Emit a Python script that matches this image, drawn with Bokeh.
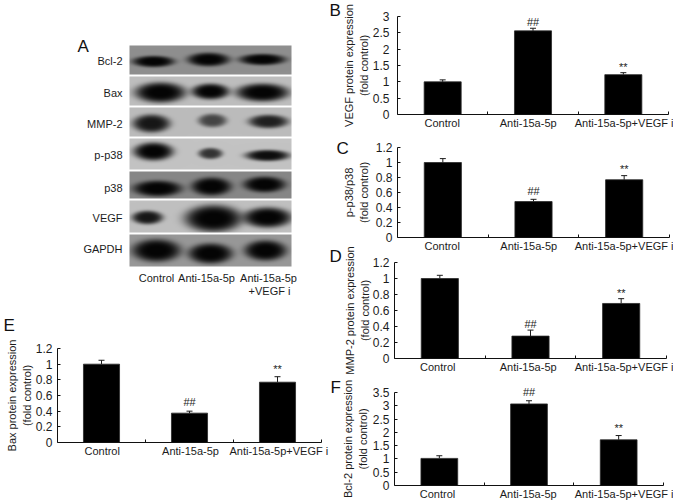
import numpy as np
from bokeh.embed import file_html
from bokeh.resources import INLINE
from bokeh.plotting import figure
from bokeh.layouts import row, column
from bokeh.models import FixedTicker, Whisker, TeeHead, ColumnDataSource
from bokeh.core.properties import value

FONT = "Liberation Sans"
INK = "#1c1c1c"
GROUPS = ["Control", "Anti-15a-5p", "Anti-15a-5p+VEGF i"]
MARKS = ["", "##", "**"]
LETTERS = ["A", "B", "C", "D", "E", "F"]
LETTER_X = [77, 329, 336, 329, 3, 330]
LETTER_Y = [45.5, 9.5, 147.5, 256, 325, 387]

VEGF_VALS = [1.0, 2.56, 1.22]
VEGF_ERR = [0.06, 0.08, 0.06]
PP38_VALS = [1.0, 0.479, 0.77]
PP38_ERR = [0.052, 0.03, 0.055]
MMP2_VALS = [1.0, 0.28, 0.688]
MMP2_ERR = [0.04, 0.075, 0.06]
BAX_VALS = [1.0, 0.375, 0.77]
BAX_ERR = [0.05, 0.025, 0.07]
BCL2_VALS = [1.02, 3.07, 1.72]
BCL2_ERR = [0.1, 0.12, 0.16]

ROW_NAMES = ["Bcl-2", "Bax", "MMP-2", "p-p38", "p38", "VEGF", "GAPDH"]
ROW_LABEL_Y = [60, 92, 123, 154, 187, 217, 248]
ROW_TOPS = [45, 76, 107, 138, 171, 200, 234]
ROW_BOTS = [74, 105, 136, 169, 198, 232, 266]
ROW_GRAYS = [143, 190, 188, 195, 135, 192, 152]
# band centre x, half width, centre y, half height per row, lane by lane
BANDS = [
    [(153, 19, 61, 5), (208, 19, 59, 6), (262, 21, 59, 5)],
    [(160, 23, 92, 9), (210, 17, 91, 7), (262, 24, 92, 8)],
    [(151, 17, 123, 8), (212, 13, 120, 6), (268, 18, 121, 6)],
    [(153, 18, 151, 8), (210, 11, 153, 5), (267, 20, 155, 5)],
    [(157, 22, 188, 7), (211, 18, 186, 8), (264, 19, 184, 7)],
    [(147, 14, 217, 6), (213, 26, 218, 12), (267, 22, 217, 9)],
    [(156, 22, 250, 10), (210, 20, 253, 9), (265, 19, 250, 9)],
]
BAND_DARK = [
    [1.0, 1.0, 1.0], [1.0, 1.0, 1.0], [0.9, 0.65, 0.85], [1.0, 0.75, 0.95],
    [1.0, 1.0, 1.0], [0.9, 1.0, 1.0], [1.0, 1.0, 1.0],
]

mark_x, mark_y, mark_text = [], [], []


def panel(vals, errs, ymax, yticks, ylab, label_px,
          fig_l, fig_r, fig_t, fig_b, fr_l, fr_r, fr_t, fr_b, margin=0,
          tick_off=5, title_off=2, mark_off=(8, 7)):
    w, h = fig_r - fig_l, fig_b - fig_t
    p = figure(width=w, height=h, x_range=(0, 3), y_range=(0, ymax),
               output_backend="svg", toolbar_location=None, frame_align=False,
               min_border_left=fr_l - fig_l, min_border_top=fr_t - fig_t,
               min_border_right=fig_r - fr_r, min_border_bottom=fig_b - fr_b,
               outline_line_color=None, background_fill_color=None, border_fill_color=None,
               margin=(margin, 0, 0, 0))
    p.grid.visible = False
    to_x = lambda px: round((px - fr_l) / (fr_r - fr_l) * 3, 4)
    xs = [0.5, 1.5, 2.5]
    tops = [v + e for v, e in zip(vals, errs)]
    p.vbar(x=xs, top=vals, width=0.41, fill_color="black", line_color="#2a2a2a", line_width=0.8)
    src = ColumnDataSource(dict(x=xs, top=tops, base=vals))
    p.add_layout(Whisker(source=src, base="x", upper="top", lower="base",
                         line_color=INK, line_width=1,
                         upper_head=TeeHead(size=6, line_color=INK, line_width=1),
                         lower_head=None))
    for x, t, m, off in zip(xs, tops, MARKS, (0,) + tuple(mark_off)):
        if m:
            mark_x.append(fr_l + x / 3 * (fr_r - fr_l))
            mark_y.append(fr_b - t / ymax * (fr_b - fr_t) - off)
            mark_text.append(m)
    xa, ya = p.xaxis[0], p.yaxis[0]
    lx = [to_x(v) for v in label_px]
    xa.ticker = FixedTicker(ticks=lx, minor_ticks=[1, 2, 3])
    xa.major_label_overrides = dict(zip(lx, GROUPS))
    xa.major_tick_in = 0
    xa.major_tick_out = 0
    xa.minor_tick_in = 3
    xa.minor_tick_out = 0
    xa.major_label_text_font = FONT
    xa.major_label_text_font_size = "11px"
    xa.major_label_text_color = INK
    xa.major_label_standoff = 2
    xa.major_label_orientation = "horizontal"
    ya.ticker = FixedTicker(ticks=yticks)
    ya.major_label_overrides = {t: f"{t:g}" for t in yticks}
    ya.major_tick_in = 3
    ya.major_tick_out = 0
    ya.minor_tick_in = 0
    ya.minor_tick_out = 0
    ya.major_label_text_font = FONT
    ya.major_label_text_font_size = "12px"
    ya.major_label_text_color = INK
    ya.major_label_standoff = tick_off
    ya.axis_label = ylab
    ya.axis_label_text_font = FONT
    ya.axis_label_text_font_size = "11px"
    ya.axis_label_text_font_style = "normal"
    ya.axis_label_text_color = INK
    ya.axis_label_standoff = title_off
    for a in (xa, ya):
        a.axis_line_color = "#111111"
        a.major_tick_line_color = "#111111"
        a.minor_tick_line_color = "#111111"
    return p


def bare(w, h, x_range, y_range, margin=(0, 0, 0, 0)):
    q = figure(width=w, height=h, x_range=x_range, y_range=y_range,
               output_backend="svg", toolbar_location=None, frame_align=False,
               min_border_left=0, min_border_right=0, min_border_top=0, min_border_bottom=0,
               x_axis_location=None, y_axis_location=None, margin=margin,
               outline_line_color=None, background_fill_color=None, border_fill_color=None)
    q.grid.visible = False
    return q


# Blot panel: its data coordinates are page pixels of the reference
a = bare(330, 320, (0, 330), (-320, 0))
XL, XR = 129, 291
for top, bot, gray, bands, darks in zip(ROW_TOPS, ROW_BOTS, ROW_GRAYS, BANDS, BAND_DARK):
    yy, xx = np.mgrid[bot - 0.5:top:-1, XL + 0.5:XR:1]
    keep = np.ones_like(xx)
    for (cx, hw, cy, hh), d in zip(bands, darks):
        r2 = ((xx - cx) / (hw * 1.1)) ** 2 + ((yy - cy) / (hh * 1.12)) ** 2
        keep *= 1 - d * np.exp(-r2 ** 2.2)
    g = (gray * keep + 4 * (1 - keep)).astype(np.uint32)
    img = (255 << 24) | (g << 16) | (g << 8) | g
    a.image_rgba(image=[img.astype(np.uint32)], x=XL, y=-bot, dw=XR - XL, dh=bot - top)
a.text(x=[122] * 7, y=[-v for v in ROW_LABEL_Y], text=ROW_NAMES,
       text_font=value(FONT), text_font_size="11px", text_align="right",
       text_baseline="middle", text_color=INK)
a.text(x=[156, 206, 268, 269], y=[-277, -277, -277, -290],
       text=["Control", "Anti-15a-5p", "Anti-15a-5p", "+VEGF i"],
       text_font=value(FONT), text_font_size="11px", text_align="center",
       text_baseline="middle", text_color=INK)

T12 = [0, 0.2, 0.4, 0.6, 0.8, 1, 1.2]
T3 = [0, 0.5, 1, 1.5, 2, 2.5, 3]
T35 = T3 + [3.5]
e = panel(BAX_VALS, BAX_ERR, 1.2, T12,
          "Bax protein expression\n(fold control)", [101.7, 190, 278.3],
          0, 330, 320, 460, 57, 321, 348, 442, title_off=0, mark_off=(9, 7.5))
b = panel(VEGF_VALS, VEGF_ERR, 3, T3,
          "VEGF protein expression\n(fold control)", [441.7, 527.7, 624.7],
          330, 673, 0, 132, 397, 668, 16, 114, tick_off=8, title_off=0, mark_off=(6, 6))
c = panel(PP38_VALS, PP38_ERR, 1.2, T12,
          "p-p38/p38\n(fold control)", [441.7, 528.3, 625],
          330, 673, 132, 255, 397, 669, 147, 237, title_off=3, mark_off=(8, 6.5))
d = panel(MMP2_VALS, MMP2_ERR, 1.2, T12,
          "MMP-2 protein expression\n(fold control)", [437.3, 527.7, 624.7],
          330, 673, 246, 376, 394, 666, 262, 358, margin=-9, title_off=-1, mark_off=(6.5, 6))
f = panel(BCL2_VALS, BCL2_ERR, 3.5, T35,
          "Bcl-2 protein expression\n(fold control)", [437, 527.7, 624.7],
          330, 673, 372, 503, 394, 663, 392, 485, margin=-4, title_off=1, mark_off=(8.5, 8))

# Transparent sheet over the whole page for the panel letters and significance marks
over = bare(677, 503, (0, 677), (-503, 0), margin=(0, 0, 0, -673))
over.text(x=mark_x, y=[-v for v in mark_y], text=mark_text, text_font=value(FONT),
          text_font_size="11px", text_align="center", text_baseline="middle", text_color=INK)
over.text(x=LETTER_X, y=[-v for v in LETTER_Y], text=LETTERS, text_font=value(FONT),
          text_font_size="17px", text_align="left", text_baseline="middle", text_color="#111111")

page = row(column(a, e, spacing=0), column(b, c, d, f, spacing=0), over, spacing=0)
open("out.html", "w").write(file_html(page, INLINE))
